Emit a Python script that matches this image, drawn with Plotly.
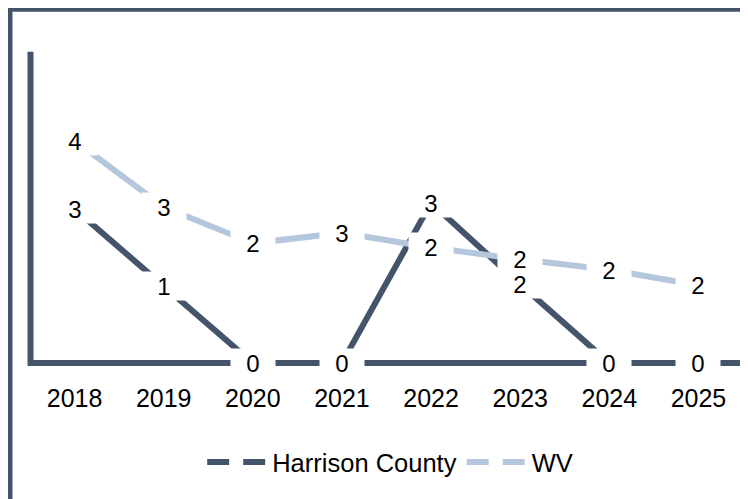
import plotly.graph_objects as go

years = ["2018", "2019", "2020", "2021", "2022", "2023", "2024", "2025"]
harrison = [2.97, 1.49, 0, 0, 3.09, 1.52, 0, 0]
wv = [4.29, 3.01, 2.31, 2.51, 2.23, 2.0, 1.8, 1.5]
series_names = ["Harrison County", "WV"]

DARK = "#44546A"
LIGHT = "#B4C7DC"
FONT = "Liberation Sans, Arial, sans-serif"

OFF = 8  # page body margin
W, H = 748 - OFF, 499 - OFF
# plot area in window pixels
L, R, T, B = 30 - OFF, 742.6 - OFF, 52 - OFF, 366.5 - OFF


def xp(px):
    return (px - OFF - L) / (R - L)


def yp(py):
    return (B - (py - OFF)) / (B - T)


def label(v):
    return str(int(v + 0.5))


fig = go.Figure()
for name, vals, col in [(series_names[0], harrison, DARK), (series_names[1], wv, LIGHT)]:
    fig.add_trace(go.Scatter(x=years, y=vals, mode="lines", name=name,
                             line=dict(color=col, width=6), showlegend=False,
                             hoverinfo="skip"))
# legend entries (dashed samples)
for name, col in [(series_names[0], DARK), (series_names[1], LIGHT)]:
    fig.add_trace(go.Scatter(x=[None], y=[None], mode="lines", name=name,
                             line=dict(color=col, width=6, dash="22px,14px")))

annotations = []
for vals in (harrison, wv):
    for i, v in enumerate(vals):
        annotations.append(dict(x=i, y=v, xref="x", yref="y", text=label(v),
                                showarrow=False, bgcolor="white", width=44, height=28,
                                borderpad=0, font=dict(size=24, color="black", family=FONT)))

shapes = [
    # outer frame (top and left)
    dict(type="line", xref="paper", yref="paper", x0=xp(7.5), x1=xp(770), y0=yp(9.2), y1=yp(9.2),
         line=dict(color=DARK, width=5)),
    dict(type="line", xref="paper", yref="paper", x0=xp(10), x1=xp(10), y0=yp(6.7), y1=yp(530),
         line=dict(color=DARK, width=5)),
    # y axis line
    dict(type="line", xref="paper", yref="paper", x0=xp(30.5), x1=xp(30.5), y0=yp(366.5), y1=yp(51.7),
         line=dict(color=DARK, width=6)),
]

fig.update_layout(
    width=W, height=H,
    margin=dict(l=L, r=W - R, t=T, b=H - B, autoexpand=False),
    paper_bgcolor="white", plot_bgcolor="white",
    font=dict(family=FONT, color="black"),
    xaxis=dict(type="category", categoryarray=years, range=[-0.5, 7.5], showgrid=False,
               showline=False, zeroline=False, ticks="", tickfont=dict(size=25, color="black"),
               ticklabelstandoff=15),
    yaxis=dict(range=[-0.0578, 6], showgrid=False, showline=False, showticklabels=False,
               ticks="", zeroline=True, zerolinecolor=DARK, zerolinewidth=6),
    legend=dict(orientation="h", x=xp(390), xanchor="center", y=yp(463), yanchor="middle",
                font=dict(size=25.5, color="black"), itemwidth=60, bgcolor="rgba(0,0,0,0)"),
    annotations=annotations,
    shapes=shapes,
    showlegend=True,
)

fig.write_html("out.html")
